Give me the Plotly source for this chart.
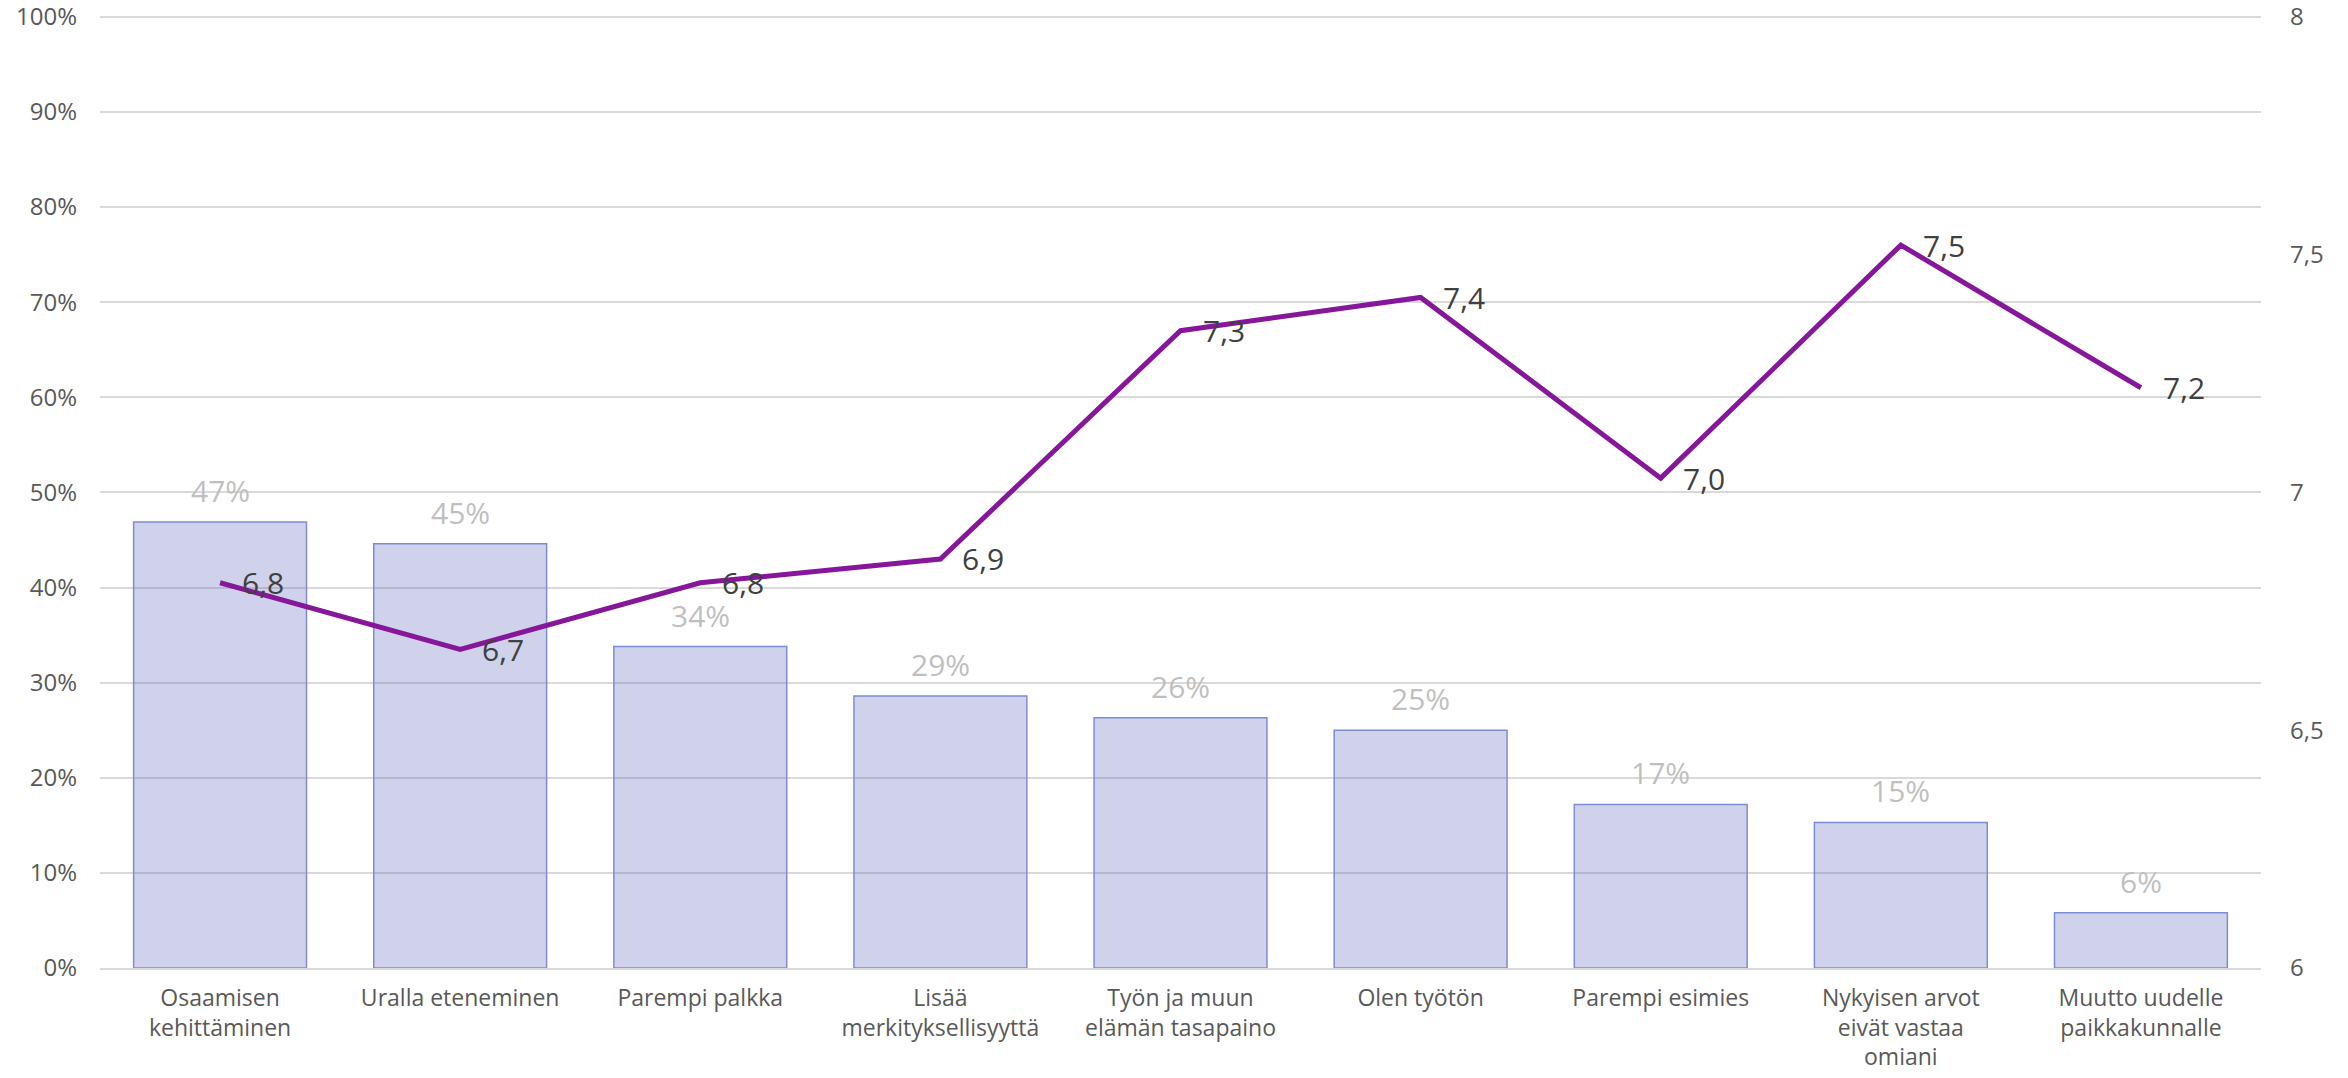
import plotly.graph_objects as go

# Reasons for changing jobs: share of respondents (bars, left axis)
# and average score (line, right axis)
categories = [
    "Osaamisen<br>kehittäminen",
    "Uralla eteneminen",
    "Parempi palkka",
    "Lisää<br>merkityksellisyyttä",
    "Työn ja muun<br>elämän tasapaino",
    "Olen työtön",
    "Parempi esimies",
    "Nykyisen arvot<br>eivät vastaa<br>omiani",
    "Muutto uudelle<br>paikkakunnalle",
]
share = [0.469, 0.446, 0.338, 0.286, 0.263, 0.250, 0.172, 0.153, 0.058]
score = [6.81, 6.67, 6.81, 6.86, 7.34, 7.41, 7.03, 7.52, 7.22]

left_ticks = [i / 10 for i in range(11)]
right_ticks = [6, 6.5, 7, 7.5, 8]

FONT = "Open Sans"
BAR_FILL = "rgba(95,105,185,0.30)"
BAR_EDGE = "#7b8dd4"
LINE = "#86179b"
GRID = "#d9d9d9"
TICK = "#595959"

# small headroom so the top tick and its gridline are not clipped at the edge
PAD = 0.004

fig = go.Figure()

fig.add_trace(go.Bar(
    x=categories, y=share,
    marker=dict(color=BAR_FILL, line=dict(color=BAR_EDGE, width=1.5)),
    hoverinfo="skip", showlegend=False,
))

fig.add_trace(go.Scatter(
    x=categories, y=score, yaxis="y2", mode="lines",
    line=dict(color=LINE, width=5),
    hoverinfo="skip", showlegend=False,
))

annotations = []
for c, v in zip(categories, share):
    annotations.append(dict(
        x=c, y=v, xref="x", yref="y", text=f"{round(v * 100):d}%",
        showarrow=False, yanchor="bottom", yshift=9,
        font=dict(family=FONT, size=30, color="#bfbfbf"),
    ))
for c, v in zip(categories, score):
    annotations.append(dict(
        x=c, y=v, xref="x", yref="y2", text=f"{v:.1f}".replace(".", ","),
        showarrow=False, xanchor="left", yanchor="middle", xshift=20,
        font=dict(family=FONT, size=30, color="#404040"),
    ))

fig.update_layout(
    width=2348, height=1078,
    margin=dict(l=100, r=87, t=13, b=110),
    paper_bgcolor="white", plot_bgcolor="white",
    separators=", ",
    bargap=0.28,
    font=dict(family=FONT, color=TICK),
    annotations=annotations,
    xaxis=dict(
        showgrid=False, showline=True, linecolor=GRID, linewidth=2,
        ticks="", tickfont=dict(size=23, color=TICK),
        ticklabelstandoff=8, automargin=False,
    ),
    yaxis=dict(
        range=[0, 1 + PAD], tickmode="array", tickvals=left_ticks,
        ticktext=[f"{round(t * 100)}%" for t in left_ticks],
        showgrid=True, gridcolor=GRID, gridwidth=1.5, zeroline=False,
        tickfont=dict(size=24, color=TICK), ticklabelstandoff=22,
        ticklabeloverflow="allow", automargin=False,
    ),
    yaxis2=dict(
        range=[6, 8 + 2 * PAD], tickmode="array", tickvals=right_ticks,
        overlaying="y", side="right",
        showgrid=False, zeroline=False,
        tickfont=dict(size=24, color=TICK), ticklabelstandoff=28,
        ticklabeloverflow="allow", automargin=False,
    ),
)

fig.write_html("out.html")
